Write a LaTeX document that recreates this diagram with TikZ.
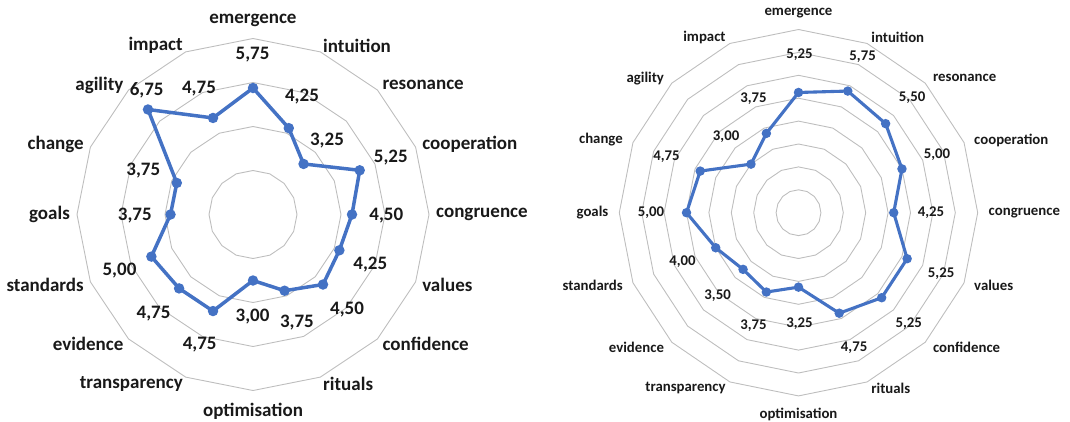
\documentclass[tikz,border=0pt]{standalone}
\usepackage{fontspec}
\setmainfont{Carlito}
\definecolor{series}{RGB}{68,114,196}
\definecolor{gridc}{RGB}{190,190,190}
\definecolor{txt}{RGB}{25,25,25}
\begin{document}
\begin{tikzpicture}[x=1pt,y=-1pt,
  ring/.style={draw=gridc,line width=0.9pt},
  serlineL/.style={draw=series,line width=3.5pt,line join=round},
  serlineR/.style={draw=series,line width=3.1pt,line join=round},
  dotL/.style={circle,fill=series,inner sep=0pt,minimum size=10.5pt},
  dotR/.style={circle,fill=series,inner sep=0pt,minimum size=9.5pt},
  txtL/.style={font=\fontsize{19}{22}\selectfont\bfseries,text=txt,inner sep=0pt},
  txtR/.style={font=\fontsize{14.8}{17}\selectfont\bfseries,text=txt,inner sep=0pt}]
\useasboundingbox (0,0) rectangle (1070,421);
% ---------------- left chart ----------------
\def\cxL{253}\def\cyL{214.5}\def\sL{22}
\foreach \v in {2,4,6,8}
  \draw[ring] ({\cxL},{\cyL-\sL*\v}) \foreach \k in {1,...,15}{ -- ({\cxL+\sL*\v*sin(22.5*\k)},{\cyL-\sL*\v*cos(22.5*\k)}) } -- cycle;
\foreach \val [count=\k from 0] in {5.75,4.25,3.25,5.25,4.50,4.25,4.50,3.75,3.00,4.75,4.75,5.00,3.75,3.75,6.75,4.75}
  \coordinate (L\k) at ({\cxL+\sL*\val*sin(22.5*\k)},{\cyL-\sL*\val*cos(22.5*\k)});
\draw[serlineL] (L0) \foreach \k in {1,...,15}{ -- (L\k) } -- cycle;
\foreach \k in {0,...,15} \node[dotL] (LM\k) at (L\k) {};
\foreach \name/\anc/\rr [count=\k from 0] in {emergence/south/188,intuition/west/183,resonance/west/183,cooperation/west/183,congruence/west/183,values/west/183,confidence/west/183,rituals/west/183,optimisation/north/188,transparency/east/183,evidence/east/183,standards/east/183,goals/east/183,change/east/183,agility/east/183,impact/east/183}
  \node[txtL,anchor=\anc] (LC\k) at ({\cxL+\rr*sin(22.5*\k)},{\cyL-\rr*cos(22.5*\k)}) {\name};
\foreach \x/\y/\t [count=\k from 0] in {252.6/55/5{,}75,302/97/4{,}25,327/141/3{,}25,390.8/158/5{,}25,386.3/216/4{,}50,370.3/265/4{,}25,347.1/310/4{,}50,296.9/323/3{,}75,252.6/317/3{,}00,199.7/345/4{,}75,153.6/314/4{,}75,119.5/271/5{,}00,134.8/216/3{,}75,143.3/171/3{,}75,146.7/90.7/6{,}75,199/88.3/4{,}75}
  \node[txtL] (LV\k) at (\x,\y) {\t};
% ---------------- right chart ----------------
\def\cxR{798.5}\def\cyR{212.7}\def\sxR{22.4}\def\syR{22.9}
\foreach \v in {1,...,8}
  \draw[ring] ({\cxR},{\cyR-\syR*\v}) \foreach \k in {1,...,15}{ -- ({\cxR+\sxR*\v*sin(22.5*\k)},{\cyR-\syR*\v*cos(22.5*\k)}) } -- cycle;
\foreach \val [count=\k from 0] in {5.25,5.75,5.50,5.00,4.25,5.25,5.25,4.75,3.25,3.75,3.50,4.00,5.00,4.75,3.00,3.75}
  \coordinate (R\k) at ({\cxR+\sxR*\val*sin(22.5*\k)},{\cyR-\syR*\val*cos(22.5*\k)});
\draw[serlineR] (R0) \foreach \k in {1,...,15}{ -- (R\k) } -- cycle;
\foreach \k in {0,...,15} \node[dotR] (RM\k) at (R\k) {};
\foreach \name/\anc/\rr [count=\k from 0] in {emergence/south/194,intuition/west/190,resonance/west/190,cooperation/west/190,congruence/west/190,values/west/190,confidence/west/190,rituals/west/190,optimisation/north/195,transparency/east/190,evidence/east/190,standards/east/190,goals/east/190,change/east/190,agility/east/190,impact/east/190}
  \node[txtR,anchor=\anc] (RC\k) at ({\cxR+\rr*sin(22.5*\k)},{\cyR-\rr*cos(22.5*\k)}) {\name};
\foreach \x/\y/\t [count=\k from 0] in {799.5/55/5{,}25,862.6/57/5{,}75,912.1/98/5{,}50,937/155/5{,}00,930.9/213/4{,}25,941.1/274/5{,}25,908.7/324/5{,}25,854.1/348/4{,}75,799.5/324/3{,}25,753.4/326/3{,}75,717.6/296/3{,}50,682.4/262/4{,}00,651/213/5{,}00,666.4/157/4{,}75,726.1/137/3{,}00,753.4/99/3{,}75}
  \node[txtR] (RV\k) at (\x,\y) {\t};
\end{tikzpicture}
\end{document}
